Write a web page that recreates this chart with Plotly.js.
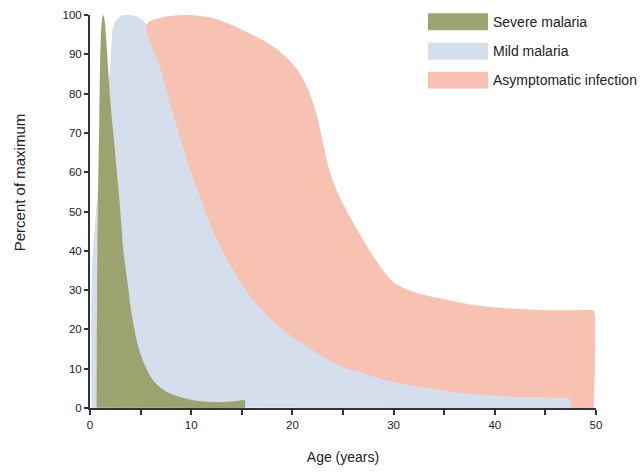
<!DOCTYPE html>
<html>
<head>
<meta charset="utf-8">
<script src="https://cdn.plot.ly/plotly-3.0.1.min.js"></script>
<style>html,body{margin:0;padding:0;background:#fff;}#chart{width:642px;height:473px;}</style>
</head>
<body>
<div id="chart"></div>
<script>
// Series names (legend labels)
const seriesNames = ["Severe malaria", "Mild malaria", "Asymptomatic infection"];
const xTitle = "Age (years)";
const yTitle = "Percent of maximum";

// Severe malaria outline (age in years, percent of maximum)
const severeAge = [0.66, 0.66, 0.7, 0.8, 0.92, 1.06, 1.2, 1.3, 1.45, 1.6, 1.8, 2.0, 2.3, 2.7, 3.0, 3.3, 3.55, 3.8, 4.05, 4.35, 4.65, 5.0, 5.4, 5.9, 6.6, 7.6, 8.9, 10.2, 11.6, 13.0, 14.3, 15.25, 15.3, 15.3, 15.25];
const severePct = [0.05, 1, 30, 55, 74, 93.7, 99, 100, 98.5, 93.7, 86, 78.4, 70, 59, 50, 40, 35, 30, 25, 20.5, 16.8, 13.6, 11, 8.4, 6, 4.1, 2.8, 2.0, 1.6, 1.5, 1.7, 2.1, 2.0, 0.05, 0];

// Mild malaria outline (right side runs just under the asymptomatic area)
const mildAge = [0.15, 0.15, 0.2, 0.6, 1.2, 1.7, 2.0, 2.15, 2.3, 2.7, 3.2, 3.9, 4.6, 5.2, 5.6, 6.3, 7.3, 8.6, 10.0, 11.1, 12.9, 15.3, 17.9, 21.2, 25.2, 27.1, 30.4, 35.4, 40.3, 44.4, 47.5, 47.6, 47.6, 47.5];
const mildPct = [0.05, 1, 35, 50, 68, 80, 87, 93.7, 97, 99, 99.9, 100, 99.6, 98.6, 97.5, 94, 86.9, 75, 63, 55, 42.9, 32, 23.4, 16.7, 10.7, 9.1, 6.6, 4.4, 3.1, 2.6, 2.3, 2.2, 0.05, 0];

// Asymptomatic infection outline (upper edge, then lower edge back)
const asymAge = [5.6, 7.0, 9.2, 10.5, 12.0, 13.5, 14.9, 16.5, 18.1, 19.3, 20.5, 21.3, 22.0, 22.6, 23.1, 23.6, 24.2, 24.8, 25.6, 26.4, 27.4, 28.4, 29.2, 30.0, 31.7, 35.0, 38.3, 41.6, 44.9, 48.0, 49.7, 49.8, 49.8, 49.8, 49.7, 47.6, 47.5, 47.5, 47.4, 44, 39.9, 35.0, 30.0, 26.7, 24.8, 20.8, 17.5, 14.9, 12.5, 10.7, 9.6, 8.2, 6.9, 5.6];
const asymPct = [97.5, 99.3, 100, 99.9, 99.3, 98, 96.4, 94.4, 92, 89.5, 86, 82.5, 78, 72.5, 66.5, 61, 56.5, 53, 49, 45.4, 41, 37, 34.2, 32, 29.8, 27.7, 26.1, 25.3, 24.9, 24.9, 24.9, 24.8, 0.1, 0, 0, 0, 0.1, 2.2, 2.3, 2.6, 3.1, 4.4, 6.6, 9.1, 10.7, 16.7, 23.4, 32, 42.9, 55, 63, 75, 86.9, 97.5];

const colors = ["#9ca36f", "#d4deed", "#f8c2b2"];

function area(x, y, color, name) {
  return {
    name: name,
    x: x, y: y, type: "scatter", mode: "lines", fill: "toself",
    fillcolor: color, line: {width: 0, color: color, shape: "spline", smoothing: 1},
    hoverinfo: "skip", showlegend: false
  };
}

const traces = [
  area(mildAge, mildPct, colors[1], seriesNames[1]),
  area(asymAge, asymPct, colors[2], seriesNames[2]),
  area(severeAge, severePct, colors[0], seriesNames[0])
];

// plot area geometry (pixels)
const L = 90, R = 46, T = 15, B = 64.5;
const plotW = 642 - L - R, plotH = 473 - T - B;
const px = v => (v - L) / plotW;          // page x -> paper x
const py = v => (473 - B - v) / plotH;    // page y -> paper y

// manual legend (wide swatches like the reference)
const shapes = [];
const annotations = [];
const legTop = [13.3, 42.7, 71.7];
seriesNames.forEach((name, i) => {
  shapes.push({type: "rect", xref: "paper", yref: "paper",
    x0: px(428), x1: px(488), y0: py(legTop[i] + 17), y1: py(legTop[i]),
    fillcolor: colors[i], line: {width: 0}});
  annotations.push({xref: "paper", yref: "paper", x: px(491), y: py(legTop[i] + 8.5),
    text: name, showarrow: false, xanchor: "left", yanchor: "middle",
    font: {family: "Liberation Sans, Arial, sans-serif", size: 14, color: "#222"}});
});
// y-axis title placed like the reference (above centre)
annotations.push({xref: "paper", yref: "paper", x: px(19.5), y: py(183),
  text: yTitle, showarrow: false, textangle: -90, xanchor: "center", yanchor: "middle",
  font: {family: "Liberation Sans, Arial, sans-serif", size: 15, color: "#222"}});

const layout = {
  width: 642, height: 473,
  margin: {l: L, r: R, t: T, b: B},
  paper_bgcolor: "#fff", plot_bgcolor: "#fff",
  showlegend: false,
  font: {family: "Liberation Sans, Arial, sans-serif", color: "#222"},
  xaxis: {
    range: [0, 50], dtick: 10, tick0: 0,
    showgrid: false, zeroline: false,
    showline: true, linecolor: "#333", linewidth: 2,
    ticks: "outside", ticklen: 5, tickwidth: 2, tickcolor: "#333",
    minor: {dtick: 5, ticks: "outside", ticklen: 5, tickwidth: 2, tickcolor: "#333", showgrid: false},
    tickfont: {size: 11.5, color: "#222"},
    title: {text: xTitle, font: {size: 14, color: "#222"}, standoff: 22}
  },
  yaxis: {
    range: [0, 100], dtick: 10, tick0: 0,
    showgrid: false, zeroline: false,
    showline: true, linecolor: "#333", linewidth: 2,
    ticks: "outside", ticklen: 4, tickwidth: 2, tickcolor: "#333",
    tickfont: {size: 11.5, color: "#222"}
  },
  shapes: shapes,
  annotations: annotations
};

Plotly.newPlot("chart", traces, layout, {displayModeBar: false, staticPlot: true});
</script>
</body>
</html>
